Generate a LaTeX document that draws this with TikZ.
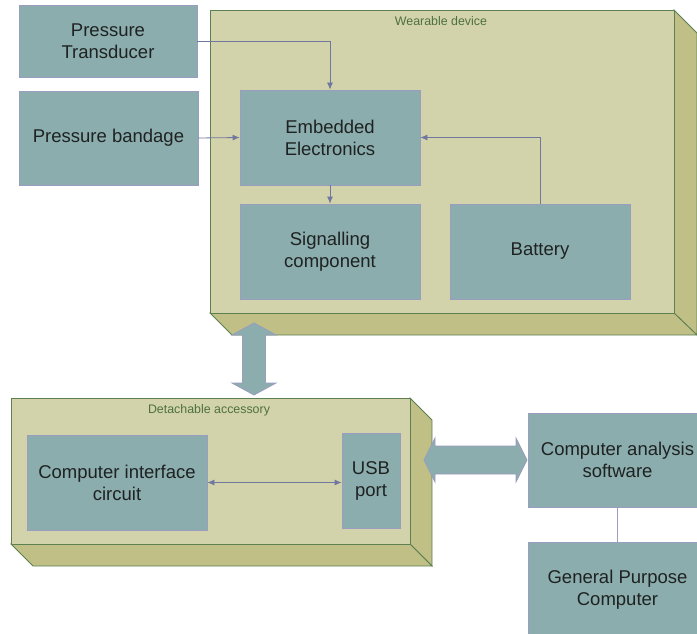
\documentclass[tikz,border=0pt]{standalone}
\usepackage{fontspec}
\setmainfont{Liberation Sans}
\usetikzlibrary{arrows.meta,calc}
\definecolor{boxfill}{HTML}{8CADAD}
\definecolor{boxline}{HTML}{9A9CC0}
\definecolor{contfront}{HTML}{D2D3AA}
\definecolor{contside}{HTML}{BFBF86}
\definecolor{contline}{HTML}{5E7F52}
\definecolor{titlecol}{HTML}{4E7040}
\definecolor{wirecol}{HTML}{7078A0}
\definecolor{textcol}{HTML}{1E2222}
\tikzset{
  blockbox/.style={draw=boxline, fill=boxfill, line width=0.8pt, align=center,
    text=textcol, font=\fontsize{18.5}{22}\selectfont, inner sep=0pt},
  wire/.style={draw=wirecol, line width=0.8pt, -{Latex[length=7pt,width=6pt]}},
  wiretwo/.style={draw=wirecol, line width=0.8pt, {Latex[length=7pt,width=6pt]}-{Latex[length=7pt,width=6pt]}},
  plain/.style={draw=boxline, line width=1pt},
  front/.style={draw=contline, fill=contfront, line width=0.8pt},
  side/.style={draw=contline, fill=contside, line width=0.8pt},
  contitle/.style={text=titlecol, font=\fontsize{12.4}{14}\selectfont, inner sep=0pt},
  bigarrow/.style={draw=boxline, fill=boxfill, line width=0.8pt},
}
\begin{document}
\begin{tikzpicture}[x=1pt,y=-1pt]
\useasboundingbox (0,0) rectangle (697,634);
\clip (0,0) rectangle (697,634);
% wearable device container
\path[side] (674,10) -- (697,33) -- (697,335) -- (674,313) -- cycle;
\path[side] (210,313) -- (674,313) -- (697,335) -- (232,335) -- cycle;
\path[front] (210,10) rectangle (674,313);
\node[contitle] (wtitle) at (441,21) {Wearable device};
% detachable accessory container
\path[side] (410,398) -- (432,420) -- (432,566) -- (410,544) -- cycle;
\path[side] (11,544) -- (410,544) -- (432,566) -- (33,566) -- cycle;
\path[front] (11,398) rectangle (410,544);
\node[contitle] (dtitle) at (209,410) {Detachable accessory};
% blocks
\node[blockbox, minimum width=178pt, minimum height=72pt] (trans) at (108,41) {Pressure\\Transducer};
\node[blockbox, minimum width=179pt, minimum height=94pt] (band) at (108.5,138) {Pressure bandage};
\node[blockbox, minimum width=180pt, minimum height=95pt] (emb) at (330,137.5) {Embedded\\Electronics};
\node[blockbox, minimum width=180pt, minimum height=95pt] (sig) at (330,251.5) {Signalling\\component};
\node[blockbox, minimum width=180pt, minimum height=95pt] (bat) at (540,251.5) {Battery};
\node[blockbox, minimum width=180pt, minimum height=95pt] (cic) at (117,482.5) {Computer interface\\circuit};
\node[blockbox, minimum width=58pt, minimum height=95pt] (usb) at (371,480.5) {USB\\port};
\node[blockbox, minimum width=179pt, minimum height=94pt] (cas) at (617.5,460) {Computer analysis\\software};
\node[blockbox, minimum width=179pt, minimum height=95pt] (gpc) at (617.5,589.5) {General Purpose\\Computer};
% connectors
\draw[wire] (trans.east) -| (emb.north);
\draw[wire] (band.east) -- (emb.west);
\draw[wire] (emb.south) -- (sig.north);
\draw[wire] (bat.north) |- (emb.east);
\draw[wiretwo] (cic.east) -- (cic.east -| usb.west);
\draw[plain] (cas.south) -- (gpc.north);
% big double arrows
\coordinate (vtop) at (254,323);
\coordinate (vbot) at (254,395);
\draw[bigarrow] (vtop) -- ++(22,12) -- ++(-10.5,0) -- ($(vbot)+(11.5,-12)$) -- ++(10.5,0) -- (vbot)
  -- ++(-22,-12) -- ++(10.5,0) -- ($(vtop)+(-11.5,12)$) -- ++(-10.5,0) -- cycle;
\coordinate (hl) at (424,460);
\coordinate (hr) at (527,460);
\draw[bigarrow] (hl) -- ++(11,-22) -- ++(0,8) -- ($(hr)+(-11,-14)$) -- ++(0,-8) -- (hr)
  -- ++(-11,22) -- ++(0,-8) -- ($(hl)+(11,14)$) -- ++(0,8) -- cycle;
\end{tikzpicture}
\end{document}
